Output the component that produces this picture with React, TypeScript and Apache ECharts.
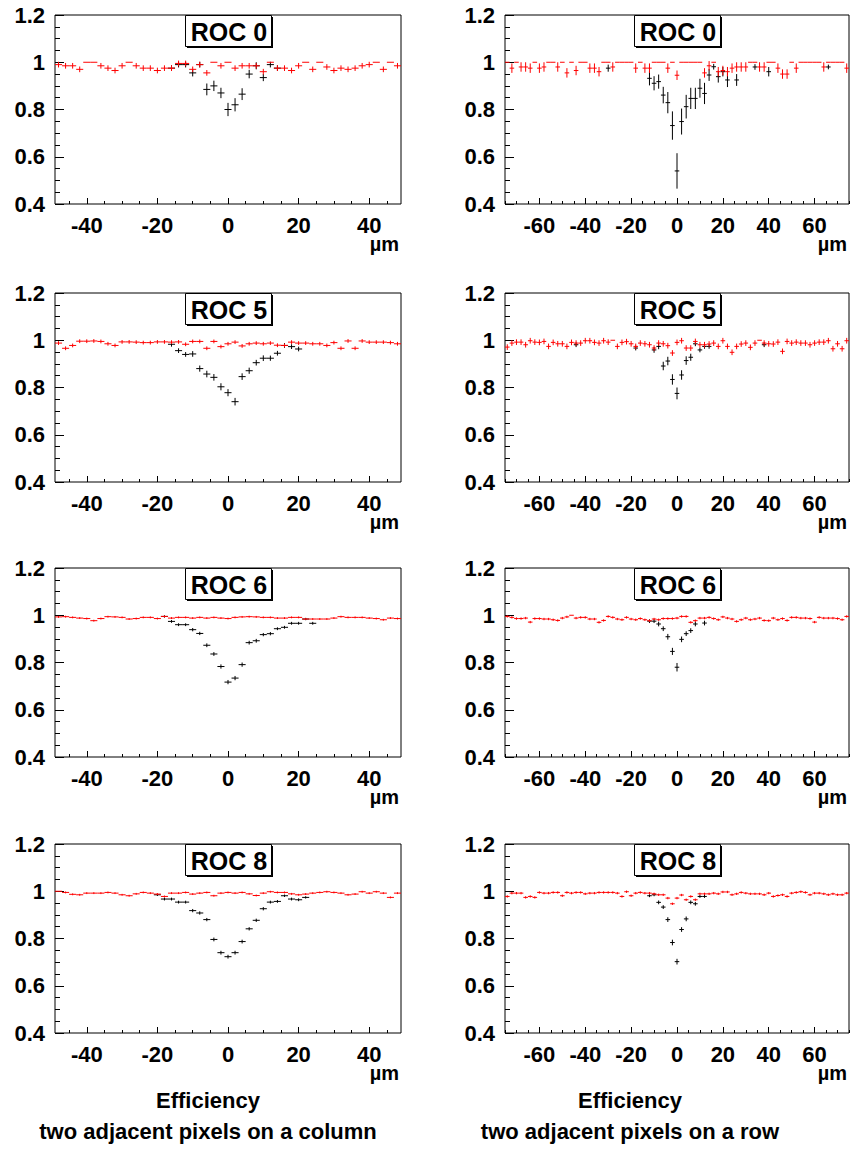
import React, { useEffect, useRef } from "react";
import * as echarts from "echarts";

// ---------- axis definitions ----------
const colRange = [-49, 49];
const rowRange = [-75, 75];
const colMajorTicks = [-40, -20, 0, 20, 40];
const colMinorTicks = [-45, -40, -35, -30, -25, -20, -15, -10, -5, 0, 5, 10, 15, 20, 25, 30, 35, 40, 45];
const rowMajorTicks = [-60, -40, -20, 0, 20, 40, 60];
const rowMinorTicks = [-75, -70, -65, -60, -55, -50, -45, -40, -35, -30, -25, -20, -15, -10, -5, 0, 5, 10, 15, 20, 25, 30, 35, 40, 45, 50, 55, 60, 65, 70, 75];
const yRange = [0.4, 1.2];

// bin centres (2 um bins)
const colX = [-48, -46, -44, -42, -40, -38, -36, -34, -32, -30, -28, -26, -24, -22, -20, -18, -16, -14, -12, -10, -8, -6, -4, -2, 0, 2, 4, 6, 8, 10, 12, 14, 16, 18, 20, 22, 24, 26, 28, 30, 32, 34, 36, 38, 40, 42, 44, 46, 48];
const rowX = [-74, -72, -70, -68, -66, -64, -62, -60, -58, -56, -54, -52, -50, -48, -46, -44, -42, -40, -38, -36, -34, -32, -30, -28, -26, -24, -22, -20, -18, -16, -14, -12, -10, -8, -6, -4, -2, 0, 2, 4, 6, 8, 10, 12, 14, 16, 18, 20, 22, 24, 26, 28, 30, 32, 34, 36, 38, 40, 42, 44, 46, 48, 50, 52, 54, 56, 58, 60, 62, 64, 66, 68, 70, 72, 74];

// ---------- ROC 0 ----------
const roc0ColRed = [0.99, 0.985, 0.985, 0.97, 1, 1, 0.985, 0.975, 0.965, 0.985,
  1, 0.985, 0.975, 0.975, 0.965, 0.975, 0.975, 0.995, 0.995, 0.97,
  0.99, 0.955, 1, 0.985, 1, 0.975, 0.985, 0.985, 0.985, 0.96,
  1, 0.975, 0.975, 0.965, 0.985, 1, 0.97, 1, 0.98, 0.965,
  0.975, 0.97, 0.975, 0.985, 0.99, 1, 0.97, 1, 0.985];
const roc0ColRedErr = 0.012;
const roc0ColBlackX = [-16, -14, -12, -10, -8, -6, -4, -2, 0, 2, 4, 6, 8, 10, 12, 14];
const roc0ColBlack = [0.975, 0.99, 0.99, 0.955, 0.99, 0.885, 0.9, 0.87, 0.8, 0.82, 0.865, 0.95, 0.985, 0.935, 0.99, 0.975];
const roc0ColBlackErr = [0.012, 0.012, 0.012, 0.015, 0.012, 0.025, 0.022, 0.022, 0.028, 0.028, 0.025, 0.018, 0.015, 0.015, 0.012, 0.012];

const roc0RowRed = [1, 0.975, 1, 0.98, 0.98, 0.975, 1, 0.975, 0.98, 1,
  1, 0.98, 1, 0.955, 1, 0.965, 1, 1, 0.975, 0.975,
  0.96, 1, 1, 0.98, 1, 1, 1, 1, 0.975, 1,
  0.975, 0.975, 1, 1, 1, 0.975, 1, 0.945, 1, 1,
  1, 1, 1, 0.955, 0.985, 1, 0.96, 0.965, 0.96, 0.975,
  0.98, 0.98, 0.98, 1, 1, 0.98, 0.98, 1, 1, 0.975,
  0.95, 0.95, 1, 0.975, 1, 1, 1, 1, 1, 0.98,
  1, 1, 1, 1, 0.975];
const roc0RowRedErr = 0.02;
const roc0RowBlackX = [-30, -12, -10, -8, -6, -4, -2, 0, 2, 4, 6, 8, 10, 12, 14, 16, 18, 20, 22, 26, 34, 40, 66];
const roc0RowBlack = [0.975, 0.932, 0.911, 0.918, 0.861, 0.829, 0.732, 0.54, 0.749, 0.812, 0.847, 0.847, 0.89, 0.868, 0.946, 0.981, 0.939, 0.96, 0.925, 0.925, 0.98, 0.96, 0.98];
const roc0RowBlackErr = [0.015, 0.03, 0.03, 0.03, 0.035, 0.045, 0.06, 0.075, 0.055, 0.05, 0.045, 0.045, 0.04, 0.045, 0.025, 0.012, 0.025, 0.02, 0.03, 0.025, 0.012, 0.02, 0.01];

// ---------- ROC 5 ----------
const roc5ColRed = [0.988, 0.966, 0.978, 0.996, 0.996, 0.997, 0.995, 0.985, 0.978, 0.993,
  0.993, 0.992, 0.99, 0.99, 0.993, 0.993, 0.992, 0.993, 0.983, 0.995,
  0.995, 0.966, 0.995, 0.973, 0.985, 0.992, 0.976, 0.985, 0.988, 0.985,
  0.988, 0.979, 0.978, 0.992, 0.988, 0.988, 0.985, 0.985, 0.978, 0.99,
  0.966, 0.997, 0.966, 0.997, 0.992, 0.992, 0.992, 0.99, 0.985];
const roc5ColRedErr = 0.008;
const roc5ColBlackX = [-16, -14, -12, -10, -8, -6, -4, -2, 0, 2, 4, 6, 8, 10, 12, 14, 16, 18, 20];
const roc5ColBlack = [0.983, 0.956, 0.94, 0.942, 0.88, 0.857, 0.843, 0.803, 0.778, 0.74, 0.846, 0.871, 0.905, 0.924, 0.924, 0.945, 0.978, 0.973, 0.963];
const roc5ColBlackErr = [0.01, 0.01, 0.01, 0.012, 0.013, 0.014, 0.014, 0.015, 0.015, 0.016, 0.014, 0.013, 0.012, 0.012, 0.011, 0.01, 0.01, 0.01, 0.01];

const roc5RowRed = [0.971, 0.988, 0.992, 0.992, 0.981, 0.998, 0.992, 0.991, 0.995, 0.974,
  0.991, 0.985, 0.985, 0.974, 0.991, 0.988, 0.988, 0.998, 0.998, 0.991,
  0.988, 0.998, 0.992, 1, 0.974, 0.991, 0.994, 0.985, 0.974, 0.988,
  0.985, 0.981, 0.967, 0.988, 0.985, 0.977, 0.946, 0.991, 0.998, 0.967,
  0.967, 0.995, 0.981, 0.981, 0.984, 0.988, 0.974, 0.998, 0.974, 0.949,
  0.974, 0.984, 0.988, 0.97, 0.988, 1, 0.988, 0.985, 0.984, 0.992,
  0.953, 0.995, 0.988, 0.992, 0.988, 0.988, 0.981, 0.988, 0.992, 0.992,
  0.998, 0.964, 0.985, 0.964, 0.998];
const roc5RowRedErr = 0.012;
const roc5RowBlackX = [-44, -18, -10, -8, -6, -4, -2, 0, 2, 4, 6, 8, 10, 12, 14, 38];
const roc5RowBlack = [0.981, 0.967, 0.959, 0.974, 0.891, 0.912, 0.834, 0.775, 0.853, 0.914, 0.928, 0.985, 0.959, 0.974, 0.974, 0.981];
const roc5RowBlackErr = [0.01, 0.01, 0.012, 0.012, 0.018, 0.018, 0.022, 0.025, 0.02, 0.018, 0.015, 0.01, 0.01, 0.01, 0.01, 0.01];

// ---------- ROC 6 ----------
const roc6ColRed = [0.993, 0.994, 0.991, 0.988, 0.986, 0.977, 0.986, 0.994, 0.993, 0.991,
  0.984, 0.986, 0.991, 0.991, 0.986, 0.995, 0.988, 0.991, 0.991, 0.988,
  0.991, 0.988, 0.991, 0.988, 0.986, 0.991, 0.993, 0.994, 0.993, 0.991,
  0.991, 0.988, 0.988, 0.991, 0.991, 0.984, 0.984, 0.984, 0.984, 0.988,
  0.994, 0.991, 0.991, 0.991, 0.988, 0.986, 0.981, 0.988, 0.986];
const roc6ColRedErr = 0.004;
const roc6ColBlackX = [-18, -16, -14, -12, -10, -8, -6, -4, -2, 0, 2, 4, 6, 8, 10, 12, 14, 16, 18, 20, 22, 24];
const roc6ColBlack = [0.995, 0.974, 0.96, 0.96, 0.939, 0.923, 0.873, 0.836, 0.783, 0.717, 0.734, 0.791, 0.884, 0.892, 0.918, 0.922, 0.943, 0.949, 0.966, 0.966, 0.984, 0.966];
const roc6ColBlackErr = [0.005, 0.006, 0.006, 0.006, 0.007, 0.007, 0.008, 0.008, 0.009, 0.009, 0.009, 0.009, 0.008, 0.008, 0.007, 0.007, 0.006, 0.006, 0.006, 0.006, 0.005, 0.006];

const roc6RowRed = [0.995, 0.991, 0.986, 0.986, 0.988, 0.971, 0.986, 0.986, 0.984, 0.984,
  0.981, 0.978, 0.988, 0.993, 1, 0.988, 0.991, 0.991, 0.984, 0.984,
  0.97, 0.978, 0.995, 0.991, 0.984, 0.981, 0.991, 0.984, 0.981, 0.986,
  0.981, 0.977, 0.984, 0.981, 0.986, 0.986, 0.986, 0.988, 0.995, 0.995,
  0.97, 0.977, 0.988, 0.988, 0.991, 0.986, 0.981, 0.993, 0.988, 0.984,
  0.974, 0.981, 0.988, 0.981, 0.984, 0.988, 0.978, 0.977, 0.988, 0.981,
  0.986, 0.978, 0.991, 0.991, 0.988, 0.988, 0.986, 0.971, 0.991, 0.988,
  0.988, 0.988, 0.986, 0.981, 0.995];
const roc6RowRedErr = 0.005;
const roc6RowBlackX = [-12, -10, -8, -6, -4, -2, 0, 2, 4, 6, 8, 12];
const roc6RowBlack = [0.975, 0.975, 0.963, 0.943, 0.909, 0.847, 0.78, 0.898, 0.922, 0.935, 0.963, 0.967];
const roc6RowBlackErr = [0.008, 0.008, 0.01, 0.01, 0.012, 0.015, 0.018, 0.012, 0.01, 0.01, 0.01, 0.01];

// ---------- ROC 8 ----------
const roc8ColRed = [1, 0.995, 0.987, 0.985, 0.992, 0.992, 0.992, 0.995, 0.992, 0.985,
  0.981, 0.989, 0.995, 0.992, 0.988, 0.978, 0.992, 0.992, 0.995, 0.988,
  0.992, 0.995, 0.981, 0.992, 0.995, 0.992, 0.995, 0.989, 0.982, 0.992,
  0.998, 0.995, 0.995, 0.989, 0.985, 0.988, 0.992, 0.995, 0.998, 0.995,
  0.992, 0.985, 0.988, 0.998, 0.992, 0.998, 0.992, 0.974, 0.992];
const roc8ColRedErr = 0.004;
const roc8ColBlackX = [-20, -18, -16, -14, -12, -10, -8, -6, -4, -2, 0, 2, 4, 6, 8, 10, 12, 14, 16, 18, 20, 22];
const roc8ColBlack = [0.985, 0.967, 0.967, 0.954, 0.954, 0.918, 0.908, 0.88, 0.796, 0.74, 0.723, 0.74, 0.787, 0.841, 0.877, 0.926, 0.954, 0.957, 0.981, 0.967, 0.964, 0.974];
const roc8ColBlackErr = [0.005, 0.006, 0.006, 0.006, 0.006, 0.007, 0.007, 0.007, 0.008, 0.008, 0.008, 0.008, 0.008, 0.007, 0.007, 0.007, 0.006, 0.006, 0.005, 0.006, 0.006, 0.005];

const roc8RowRed = [0.978, 0.992, 0.992, 0.992, 0.974, 0.978, 0.974, 0.995, 0.992, 0.992,
  0.995, 0.995, 0.981, 0.995, 0.992, 0.995, 0.995, 0.989, 0.992, 0.992,
  0.995, 0.995, 0.995, 0.995, 0.992, 0.978, 0.998, 0.981, 0.992, 0.995,
  0.992, 0.992, 0.989, 0.985, 0.985, 0.971, 0.947, 0.971, 0.984, 0.964,
  0.978, 0.964, 0.989, 0.989, 0.989, 0.992, 0.989, 0.997, 0.997, 0.985,
  0.989, 0.995, 0.992, 0.989, 0.989, 0.989, 0.985, 0.992, 0.978, 0.982,
  0.985, 0.978, 0.992, 0.995, 0.998, 0.995, 0.985, 0.992, 0.992, 0.989,
  0.985, 0.989, 0.985, 0.985, 0.992];
const roc8RowRedErr = 0.005;
const roc8RowBlackX = [-12, -10, -8, -6, -4, -2, 0, 2, 4, 6, 8, 10, 12];
const roc8RowBlack = [0.981, 0.985, 0.953, 0.933, 0.88, 0.783, 0.702, 0.838, 0.883, 0.953, 0.947, 0.978, 0.978];
const roc8RowBlackErr = [0.006, 0.006, 0.008, 0.008, 0.01, 0.012, 0.012, 0.01, 0.01, 0.008, 0.008, 0.006, 0.006];

const titles = ["ROC 0", "ROC 5", "ROC 6", "ROC 8"];
const axisUnit = "µm";
const captionTop = "Efficiency";
const captionCol = "two adjacent pixels on a column";
const captionRow = "two adjacent pixels on a row";

// ---------- layout / style ----------
const FONT = "'Liberation Sans', Arial, Helvetica, sans-serif";
const ROW_TOPS = [15, 293, 568, 844];
const PLOT_H = 189;
const COL_LEFT = [55, 505];
const COL_W = [346, 344];
const HALF_BIN = 1;

type Panel = {
  row: number;
  col: number;
  redX: number[];
  red: number[];
  redErr: number;
  blackX: number[];
  black: number[];
  blackErr: number[];
};

const panels: Panel[] = [
  { row: 0, col: 0, redX: colX, red: roc0ColRed, redErr: roc0ColRedErr, blackX: roc0ColBlackX, black: roc0ColBlack, blackErr: roc0ColBlackErr },
  { row: 0, col: 1, redX: rowX, red: roc0RowRed, redErr: roc0RowRedErr, blackX: roc0RowBlackX, black: roc0RowBlack, blackErr: roc0RowBlackErr },
  { row: 1, col: 0, redX: colX, red: roc5ColRed, redErr: roc5ColRedErr, blackX: roc5ColBlackX, black: roc5ColBlack, blackErr: roc5ColBlackErr },
  { row: 1, col: 1, redX: rowX, red: roc5RowRed, redErr: roc5RowRedErr, blackX: roc5RowBlackX, black: roc5RowBlack, blackErr: roc5RowBlackErr },
  { row: 2, col: 0, redX: colX, red: roc6ColRed, redErr: roc6ColRedErr, blackX: roc6ColBlackX, black: roc6ColBlack, blackErr: roc6ColBlackErr },
  { row: 2, col: 1, redX: rowX, red: roc6RowRed, redErr: roc6RowRedErr, blackX: roc6RowBlackX, black: roc6RowBlack, blackErr: roc6RowBlackErr },
  { row: 3, col: 0, redX: colX, red: roc8ColRed, redErr: roc8ColRedErr, blackX: roc8ColBlackX, black: roc8ColBlack, blackErr: roc8ColBlackErr },
  { row: 3, col: 1, redX: rowX, red: roc8RowRed, redErr: roc8RowRedErr, blackX: roc8RowBlackX, black: roc8RowBlack, blackErr: roc8RowBlackErr },
];

function makeRender(color: string) {
  return (params: any, api: any) => {
    const x = api.value(0);
    const y = api.value(1);
    const e = api.value(2);
    const pL = api.coord([x - HALF_BIN, y]);
    const pR = api.coord([x + HALF_BIN, y]);
    const children: any[] = [
      { type: "line", shape: { x1: pL[0], y1: pL[1], x2: pR[0], y2: pR[1] }, style: { stroke: color, lineWidth: 1 } },
    ];
    if (e > 0) {
      const pT = api.coord([x, y + e]);
      const pB = api.coord([x, y - e]);
      children.push({ type: "line", shape: { x1: pT[0], y1: pT[1], x2: pB[0], y2: pB[1] }, style: { stroke: color, lineWidth: 1 } });
    }
    return { type: "group", children };
  };
}

function buildOption() {
  const grid: any[] = [];
  const xAxis: any[] = [];
  const yAxis: any[] = [];
  const series: any[] = [];
  const graphic: any[] = [];
  const labelStyle = { fontSize: 22, fontWeight: "bold", fontFamily: FONT, color: "#000" };

  panels.forEach((p, i) => {
    const left = COL_LEFT[p.col];
    const width = COL_W[p.col];
    const top = ROW_TOPS[p.row];
    const range = p.col === 0 ? colRange : rowRange;
    const majors = p.col === 0 ? colMajorTicks : rowMajorTicks;
    const minors = p.col === 0 ? colMinorTicks : rowMinorTicks;

    grid.push({ left, top, width, height: PLOT_H, show: true, borderColor: "#000", borderWidth: 1, backgroundColor: "#fff", containLabel: false, outerBoundsMode: "none" });

    xAxis.push({
      gridIndex: i, type: "value", min: range[0], max: range[1], position: "bottom",
      axisLine: { show: false, onZero: false },
      splitLine: { show: false },
      axisTick: { show: true, inside: true, length: 6, customValues: majors, lineStyle: { color: "#000", width: 1 } },
      axisLabel: { show: true, customValues: majors, margin: 10, ...labelStyle },
    });
    xAxis.push({
      gridIndex: i, type: "value", min: range[0], max: range[1], position: "bottom",
      axisLine: { show: false, onZero: false },
      splitLine: { show: false },
      axisTick: { show: true, inside: true, length: 3, customValues: minors, lineStyle: { color: "#000", width: 1 } },
      axisLabel: { show: false },
    });
    yAxis.push({
      gridIndex: i, type: "value", min: yRange[0], max: yRange[1], interval: 0.2,
      axisLine: { show: false, onZero: false },
      splitLine: { show: false },
      axisTick: { show: true, inside: true, length: 9, lineStyle: { color: "#000", width: 1 } },
      minorTick: { show: true, splitNumber: 4, length: 5, lineStyle: { color: "#000", width: 1 } },
      minorSplitLine: { show: false },
      axisLabel: { margin: 10, formatter: (v: number) => String(Math.round(v * 10) / 10), ...labelStyle },
    });

    const blackData = p.blackX
      .map((x, k) => [x, p.black[k], p.blackErr[k]])
      .filter((d) => d[1] != null);
    const redData = p.redX.map((x, k) => [x, p.red[k], p.red[k] >= 1 ? 0 : p.redErr]);

    series.push({
      type: "custom", xAxisIndex: 2 * i, yAxisIndex: i, coordinateSystem: "cartesian2d",
      data: blackData, encode: { x: 0, y: 1 }, renderItem: makeRender("#000000"), clip: true, silent: true, z: 2,
    });
    series.push({
      type: "custom", xAxisIndex: 2 * i, yAxisIndex: i, coordinateSystem: "cartesian2d",
      data: redData, encode: { x: 0, y: 1 }, renderItem: makeRender("#ff0000"), clip: true, silent: true, z: 3,
    });

    // title box (ROOT style with shadow)
    const cx = left + width / 2;
    const bw = 86;
    const bh = 31;
    graphic.push({ type: "rect", z: 100, shape: { x: Math.round(cx - bw / 2) + 2, y: top + 2, width: bw, height: bh }, style: { fill: "#000" } });
    graphic.push({ type: "rect", z: 101, shape: { x: Math.round(cx - bw / 2) + 0.5, y: top + 0.5, width: bw, height: bh }, style: { fill: "#fff", stroke: "#000", lineWidth: 1 } });
    graphic.push({
      type: "text", z: 102, x: Math.round(cx) + 1, y: top + bh / 2 + 1.5,
      style: { text: titles[p.row], fontSize: 25, fontWeight: "bold", fontFamily: FONT, fill: "#000", align: "center", verticalAlign: "middle" },
    });
    // unit label
    graphic.push({
      type: "text", z: 102, x: left + width - 2, y: top + PLOT_H + 40,
      style: { text: axisUnit, fontSize: 20, fontWeight: "bold", fontFamily: FONT, fill: "#000", align: "right", verticalAlign: "middle" },
    });
  });

  const captions = [
    { x: 208, sub: captionCol },
    { x: 630, sub: captionRow },
  ];
  captions.forEach((c) => {
    graphic.push({ type: "text", z: 102, x: c.x, y: 1100, style: { text: captionTop, fontSize: 22, fontWeight: "bold", fontFamily: FONT, fill: "#000", align: "center", verticalAlign: "middle" } });
    graphic.push({ type: "text", z: 102, x: c.x, y: 1131, style: { text: c.sub, fontSize: 22, fontWeight: "bold", fontFamily: FONT, fill: "#000", align: "center", verticalAlign: "middle" } });
  });

  return { animation: false, backgroundColor: "#fff", grid, xAxis, yAxis, series, graphic };
}

export default function App() {
  const ref = useRef<HTMLDivElement>(null);
  useEffect(() => {
    const chart = echarts.init(ref.current as HTMLDivElement, null, { renderer: "svg" });
    chart.setOption(buildOption() as any);
    return () => chart.dispose();
  }, []);
  return <div ref={ref} style={{ position: "absolute", left: 0, top: 0, width: 851, height: 1162, background: "#fff" }} />;
}
